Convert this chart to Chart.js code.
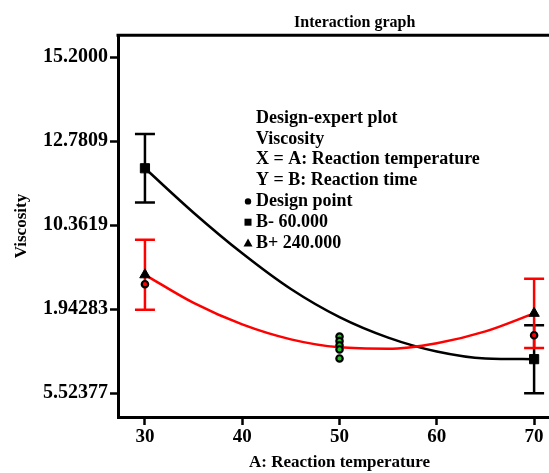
<!DOCTYPE html>
<html>
<head>
<meta charset="utf-8">
<script src="https://cdn.jsdelivr.net/npm/chart.js@4.4.1/dist/chart.umd.min.js"></script>
<style>
  html, body { margin: 0; padding: 0; background: #fff; overflow: hidden; }
  #wrap { width: 604px; height: 473px; }
</style>
</head>
<body>
<div id="wrap"><canvas id="chart" width="604" height="473"></canvas></div>
<script>
// data
var temperature = [30, 35, 40, 45, 50, 55, 60, 65, 70];
var viscosityLow = [12.00, 10.72, 9.55, 8.52, 7.71, 7.12, 6.72, 6.52, 6.50];   // B- 60.000
var viscosityHigh = [8.93, 8.12, 7.50, 7.07, 6.84, 6.80, 6.96, 7.30, 7.82];   // B+ 240.000

var barTemps = [30, 70];
var lowMeans = [12.00, 6.50];
var lowLsd = [0.99, 0.98];
var highMeans = [8.93, 7.82];
var highLsd = [1.01, 1.00];

var designTemps = [30, 70];
var designVisc = [8.66, 7.19];
var centerTemps = [50, 50, 50, 50, 50];
var centerVisc = [7.15, 7.02, 6.90, 6.78, 6.52];

var xTicks = [30, 40, 50, 60, 70];
var yTicks = [15.2, 12.7809, 10.3619, 7.94283, 5.52377];
var yTickLabels = ['15.2000', '12.7809', '10.3619', '1.94283', '5.52377'];

var xTitle = 'A: Reaction temperature';
var notes = ['Design-expert plot', 'Viscosity', 'X = A: Reaction temperature', 'Y = B: Reaction time'];
var legendItems = ['Design point', 'B- 60.000', 'B+ 240.000'];

var serif = '"Liberation Serif", "Times New Roman", serif';

function pts(xs, ys) {
    return xs.map(function(x, i) { return {x: x, y: ys[i]}; });
}

function bars(xs, means, lsd) {
    var out = [];
    xs.forEach(function(x, i) {
        out.push({x: x, y: means[i] - lsd[i]});
        out.push({x: x, y: means[i] + lsd[i]});
        out.push({x: x, y: null});
    });
    return out;
}

var framePlugin = {
    id: 'frame',
    afterDraw: function(chart) {
        var ctx = chart.ctx;
        var area = chart.chartArea;
        var xs = chart.scales.x;
        ctx.save();
        ctx.strokeStyle = '#000';
        ctx.lineWidth = 3;
        ctx.beginPath();
        ctx.moveTo(area.left - 1.5, area.top);
        ctx.lineTo(area.right, area.top);
        ctx.stroke();

        ctx.fillStyle = '#000';
        ctx.textBaseline = 'middle';

        // x axis title, centred over the factor range
        ctx.font = 'bold 17px ' + serif;
        ctx.textAlign = 'center';
        var cx = (xs.getPixelForValue(xTicks[0]) + xs.getPixelForValue(xTicks[xTicks.length - 1])) / 2;
        ctx.fillText(xTitle, cx, area.bottom + 46);

        // text block inside the plot
        var x = area.left + 138;
        var y = area.top + 83;
        var step = 20.8;
        ctx.font = 'bold 18px ' + serif;
        ctx.textAlign = 'left';
        notes.forEach(function(t, i) {
            ctx.fillText(t, x, y + i * step);
        });
        legendItems.forEach(function(t, i) {
            var ly = y + (notes.length + i) * step;
            ctx.fillText(t, x, ly);
            var mx = x - 8;
            ctx.beginPath();
            if (i === 0) {
                ctx.arc(mx, ly, 3.2, 0, Math.PI * 2);
            } else if (i === 1) {
                ctx.rect(mx - 3.5, ly - 3.5, 7, 7);
            } else {
                ctx.moveTo(mx, ly - 4.5);
                ctx.lineTo(mx + 4.5, ly + 3.5);
                ctx.lineTo(mx - 4.5, ly + 3.5);
                ctx.closePath();
            }
            ctx.fill();
        });
        ctx.restore();
    }
};

var ctx = document.getElementById('chart').getContext('2d');
var chart = new Chart(ctx, {
    type: 'line',
    data: {
        datasets: [
            {
                label: 'Design point',
                type: 'scatter',
                data: pts(designTemps, designVisc),
                pointStyle: 'circle',
                pointRadius: 3.2,
                pointBackgroundColor: '#ff0000',
                pointBorderColor: '#000',
                pointBorderWidth: 2.2,
                order: 0
            },
            {
                label: 'Center points',
                type: 'scatter',
                data: pts(centerTemps, centerVisc),
                pointStyle: 'circle',
                pointRadius: 3.2,
                pointBackgroundColor: '#22c022',
                pointBorderColor: '#000',
                pointBorderWidth: 2.2,
                order: 0
            },
            {
                label: 'B+ 240.000 mean',
                type: 'scatter',
                data: pts(barTemps, highMeans),
                pointStyle: 'triangle',
                pointRadius: 6,
                pointBackgroundColor: '#000',
                pointBorderColor: '#000',
                order: 1
            },
            {
                label: 'B- 60.000 mean',
                type: 'scatter',
                data: pts(barTemps, lowMeans),
                pointStyle: 'rect',
                pointRadius: 6.5,
                pointBackgroundColor: '#000',
                pointBorderColor: '#000',
                order: 1
            },
            {
                label: 'B+ LSD',
                data: bars(barTemps, highMeans, highLsd),
                borderColor: '#ff0000',
                borderWidth: 2.5,
                pointStyle: 'line',
                pointRadius: 10,
                pointBorderColor: '#ff0000',
                pointBorderWidth: 2.5,
                spanGaps: false,
                order: 2
            },
            {
                label: 'B+ 240.000',
                data: pts(temperature, viscosityHigh),
                borderColor: '#ff0000',
                borderWidth: 2.5,
                pointRadius: 0,
                cubicInterpolationMode: 'monotone',
                order: 3
            },
            {
                label: 'B- LSD',
                data: bars(barTemps, lowMeans, lowLsd),
                borderColor: '#000',
                borderWidth: 2.5,
                pointStyle: 'line',
                pointRadius: 10,
                pointBorderColor: '#000',
                pointBorderWidth: 2.5,
                spanGaps: false,
                order: 4
            },
            {
                label: 'B- 60.000',
                data: pts(temperature, viscosityLow),
                borderColor: '#000',
                borderWidth: 2.5,
                pointRadius: 0,
                cubicInterpolationMode: 'monotone',
                order: 5
            }
        ]
    },
    options: {
        responsive: false,
        animation: false,
        layout: { padding: { left: 0, right: 2, top: 0, bottom: 0 } },
        plugins: {
            legend: { display: false },
            tooltip: { enabled: false },
            title: {
                display: true,
                text: 'Interaction graph',
                fullSize: false,
                color: '#000',
                font: { family: serif, size: 16, weight: 'bold' },
                padding: { top: 13, bottom: 3 }
            }
        },
        scales: {
            x: {
                type: 'linear',
                min: 27.23,
                max: 75.9,
                afterFit: function(scale) {
                    scale.height = 56;
                    scale.paddingLeft = 0;
                    scale.paddingRight = 0;
                },
                afterBuildTicks: function(scale) {
                    scale.ticks = xTicks.map(function(v) { return {value: v}; });
                },
                border: { display: true, color: '#000', width: 3 },
                grid: { display: true, drawOnChartArea: false, drawTicks: true, tickLength: 8, tickWidth: 2.5, tickColor: '#000' },
                ticks: { color: '#000', padding: 1, font: { family: serif, size: 19, weight: 'bold' } },
                title: { display: false }
            },
            y: {
                min: 4.833,
                max: 15.834,
                afterFit: function(scale) {
                    scale.width = 118;
                    scale.paddingTop = 0;
                    scale.paddingBottom = 0;
                },
                afterBuildTicks: function(scale) {
                    scale.ticks = yTicks.map(function(v) { return {value: v}; });
                },
                border: { display: true, color: '#000', width: 3 },
                grid: { display: true, drawOnChartArea: false, drawTicks: true, tickLength: 8, tickWidth: 2.5, tickColor: '#000' },
                ticks: {
                    color: '#000',
                    padding: 2,
                    font: { family: serif, size: 20, weight: 'bold' },
                    callback: function(value) { return yTickLabels[yTicks.indexOf(value)]; }
                },
                title: {
                    display: true,
                    text: 'Viscosity',
                    color: '#000',
                    font: { family: serif, size: 17, weight: 'bold' },
                    padding: { top: 11, bottom: 0 }
                }
            }
        }
    },
    plugins: [framePlugin]
});
</script>
</body>
</html>
